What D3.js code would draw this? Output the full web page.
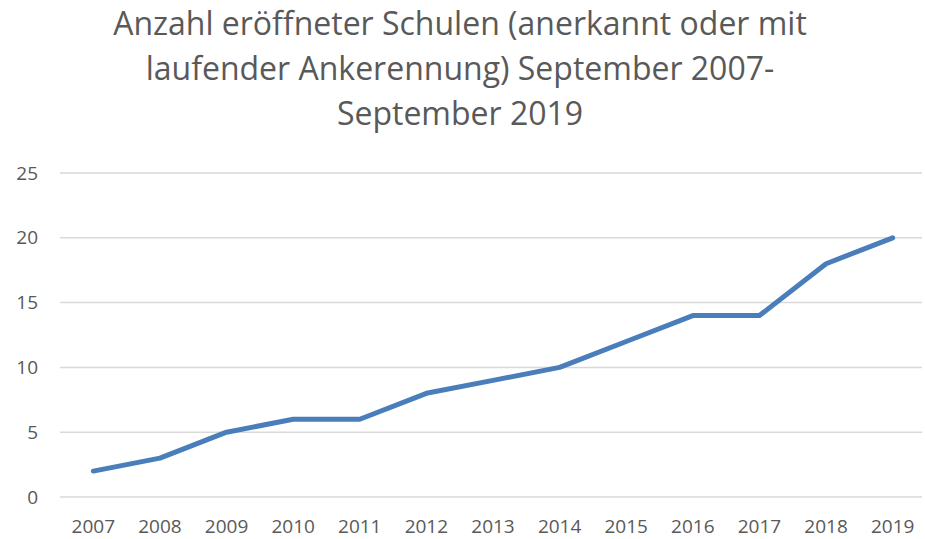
<!DOCTYPE html>
<html>
<head>
<meta charset="utf-8">
<script src="https://cdn.jsdelivr.net/npm/d3@7"></script>
<style>
  body { margin: 0; background: #fff; }
  text { font-family: "Open Sans", "Noto Sans", sans-serif; fill: #595959; }
</style>
</head>
<body>
<svg class="chart" width="925" height="539"></svg>
<script>
const years = ["2007","2008","2009","2010","2011","2012","2013","2014","2015","2016","2017","2018","2019"];
const schools = [2, 3, 5, 6, 6, 8, 9, 10, 12, 14, 14, 18, 20];
const yTicks = [0, 5, 10, 15, 20, 25];
const titleLines = [
    "Anzahl eröffneter Schulen (anerkannt oder mit",
    "laufender Ankerennung) September 2007-",
    "September 2019"
];

const margin = {top: 173, left: 60, right: 0, bottom: 42};
const chart_dimensions = {width: 866, height: 324};

const svg = d3.select(".chart");

const x_year = d3.scaleBand()
    .domain(years)
    .range([margin.left, margin.left + chart_dimensions.width]);
const y_schools = d3.scaleLinear()
    .domain([0, 25])
    .range([margin.top + chart_dimensions.height, margin.top]);

// horizontal gridlines
svg.append("g")
    .selectAll("line").data(yTicks)
    .enter()
    .append("line")
    .attr("x1", margin.left)
    .attr("x2", 922)
    .attr("y1", d => y_schools(d))
    .attr("y2", d => y_schools(d))
    .attr("stroke", "#d9d9d9")
    .attr("stroke-width", 1.5);

// y labels
svg.append("g")
    .selectAll("text").data(yTicks)
    .enter()
    .append("text")
    .attr("x", 38)
    .attr("y", d => y_schools(d))
    .attr("dy", "0.35em")
    .attr("text-anchor", "end")
    .style("font-size", "19px")
    .text(d => d);

// x labels
svg.append("g")
    .selectAll("text").data(years)
    .enter()
    .append("text")
    .attr("x", d => x_year(d) + x_year.bandwidth() / 2)
    .attr("y", 533)
    .attr("text-anchor", "middle")
    .style("font-size", "19px")
    .text(d => d);

// line
const line = d3.line()
    .x((d, i) => x_year(years[i]) + x_year.bandwidth() / 2)
    .y(d => y_schools(d));

svg.append("path")
    .datum(schools)
    .attr("d", line)
    .attr("fill", "none")
    .attr("stroke", "#4a7ebb")
    .attr("stroke-width", 5)
    .attr("stroke-linecap", "round")
    .attr("stroke-linejoin", "round");

// title
svg.append("text")
    .attr("text-anchor", "middle")
    .style("font-size", "32px")
    .selectAll("tspan").data(titleLines)
    .enter()
    .append("tspan")
    .attr("x", 460)
    .attr("y", (d, i) => 35 + i * 45)
    .text(d => d);
</script>
</body>
</html>
